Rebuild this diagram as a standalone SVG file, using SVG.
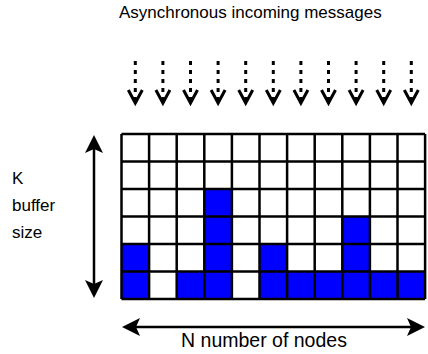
<svg xmlns="http://www.w3.org/2000/svg" width="428" height="354" viewBox="0 0 428 354">
<defs>
<style>
.t{font-family:"Liberation Sans",Arial,sans-serif;font-size:17px;fill:#000}
.cell{fill:#fff}
.on{fill:#0000ff}
.grid{stroke:#000;stroke-width:2.5;fill:none}
.dash{stroke:#000;stroke-width:3;stroke-dasharray:4 5;fill:none}
.chev{stroke:#000;stroke-width:3;fill:none;stroke-linejoin:miter}
.dbl{stroke:#000;stroke-width:2.5;fill:none}
</style>
<path id="head" d="M0,0 L-18,-9 L-14,0 L-18,9 Z" fill="#000"/>
</defs>
<rect width="428" height="354" fill="#fff"/>
<g id="title"><text class="t" x="119" y="18">Asynchronous incoming messages</text></g>
<g id="incoming">
<g transform="translate(135.3,0)"><path class="dash" d="M0,61 V101"/><polyline class="chev" points="-7,90 0,103 7,90"/></g>
<g transform="translate(162.9,0)"><path class="dash" d="M0,61 V101"/><polyline class="chev" points="-7,90 0,103 7,90"/></g>
<g transform="translate(190.5,0)"><path class="dash" d="M0,61 V101"/><polyline class="chev" points="-7,90 0,103 7,90"/></g>
<g transform="translate(218.1,0)"><path class="dash" d="M0,61 V101"/><polyline class="chev" points="-7,90 0,103 7,90"/></g>
<g transform="translate(245.7,0)"><path class="dash" d="M0,61 V101"/><polyline class="chev" points="-7,90 0,103 7,90"/></g>
<g transform="translate(273.3,0)"><path class="dash" d="M0,61 V101"/><polyline class="chev" points="-7,90 0,103 7,90"/></g>
<g transform="translate(300.9,0)"><path class="dash" d="M0,61 V101"/><polyline class="chev" points="-7,90 0,103 7,90"/></g>
<g transform="translate(328.5,0)"><path class="dash" d="M0,61 V101"/><polyline class="chev" points="-7,90 0,103 7,90"/></g>
<g transform="translate(356.1,0)"><path class="dash" d="M0,61 V101"/><polyline class="chev" points="-7,90 0,103 7,90"/></g>
<g transform="translate(383.7,0)"><path class="dash" d="M0,61 V101"/><polyline class="chev" points="-7,90 0,103 7,90"/></g>
<g transform="translate(411.3,0)"><path class="dash" d="M0,61 V101"/><polyline class="chev" points="-7,90 0,103 7,90"/></g>
</g>
<g id="buffer-grid">
<rect class="cell" x="121.5" y="134" width="303.6" height="165"/>
<rect class="on" x="204.3" y="189" width="27.6" height="27.5"/>
<rect class="on" x="204.3" y="216.5" width="27.6" height="27.5"/>
<rect class="on" x="342.3" y="216.5" width="27.6" height="27.5"/>
<rect class="on" x="121.5" y="244" width="27.6" height="27.5"/>
<rect class="on" x="204.3" y="244" width="27.6" height="27.5"/>
<rect class="on" x="259.5" y="244" width="27.6" height="27.5"/>
<rect class="on" x="342.3" y="244" width="27.6" height="27.5"/>
<rect class="on" x="121.5" y="271.5" width="27.6" height="27.5"/>
<rect class="on" x="176.7" y="271.5" width="55.2" height="27.5"/>
<rect class="on" x="259.5" y="271.5" width="165.6" height="27.5"/>
<path class="grid" d="M121.5,134 V299 M149.1,134 V299 M176.7,134 V299 M204.3,134 V299 M231.9,134 V299 M259.5,134 V299 M287.1,134 V299 M314.7,134 V299 M342.3,134 V299 M369.9,134 V299 M397.5,134 V299 M425.1,134 V299 M121.5,134 H425.1 M121.5,161.5 H425.1 M121.5,189 H425.1 M121.5,216.5 H425.1 M121.5,244 H425.1 M121.5,271.5 H425.1 M121.5,299 H425.1"/>
</g>
<g id="k-arrow">
<path class="dbl" d="M94,145 V288"/>
<use href="#head" transform="translate(94,135) rotate(-90)"/>
<use href="#head" transform="translate(94,298) rotate(90)"/>
</g>
<g id="n-arrow">
<path class="dbl" d="M132,327 H415"/>
<use href="#head" transform="translate(122,327) rotate(180)"/>
<use href="#head" transform="translate(425,327)"/>
</g>
<g id="k-label">
<text class="t" x="12" y="184">K</text>
<text class="t" x="12" y="211">buffer</text>
<text class="t" x="12" y="238">size</text>
</g>
<g id="n-label"><text class="t" x="264" y="347" text-anchor="middle" style="font-size:19.5px">N number of nodes</text></g>
</svg>
